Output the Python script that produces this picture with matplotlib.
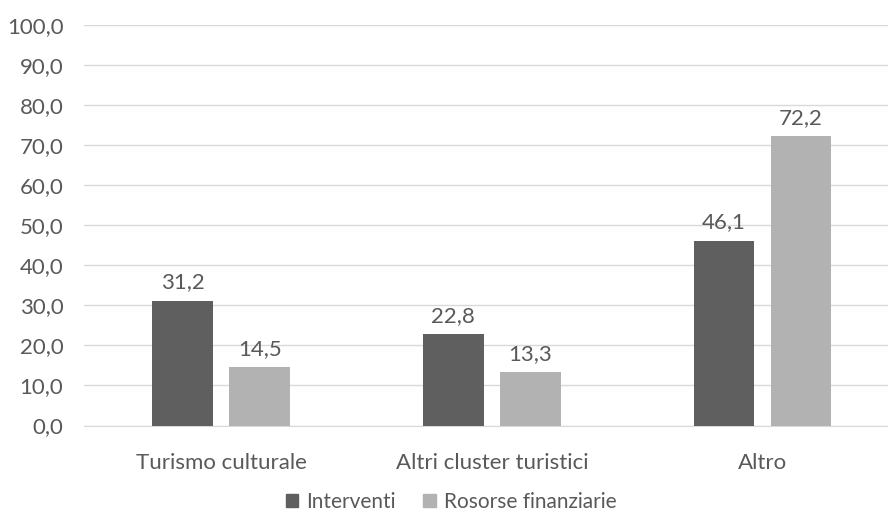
import numpy as np
import matplotlib.pyplot as plt
from matplotlib.ticker import FuncFormatter
from matplotlib.patches import Patch

categories = ["Turismo culturale", "Altri cluster turistici", "Altro"]
interventi = [31.2, 22.8, 46.1]
risorse = [14.5, 13.3, 72.2]
series_names = ["Interventi", "Rosorse finanziarie"]

TEXT = "#595959"
DARK = "#5f5f5f"
LIGHT = "#b2b2b2"
GRID = "#d9d9d9"
FS = 16

plt.rcParams["font.family"] = ["Lato", "DejaVu Sans"]

fig = plt.figure(figsize=(8.88, 5.2), dpi=100)
ax = fig.add_axes([0.0949, 0.1817, 0.9051, 0.7703])

x = np.arange(len(categories))
w = 0.224
off = 0.142
b1 = ax.bar(x - off, interventi, w, color=DARK, zorder=3)
b2 = ax.bar(x + off, risorse, w, color=LIGHT, zorder=3)

def fmt(v):
    return f"{v:.1f}".replace(".", ",")

for bars, vals in ((b1, interventi), (b2, risorse)):
    for rect, v in zip(bars, vals):
        ax.annotate(fmt(v), (rect.get_x() + rect.get_width() / 2, v),
                    xytext=(0, 6), textcoords="offset points",
                    ha="center", va="bottom", fontsize=FS, color=TEXT)

ax.set_ylim(0, 100)
ax.set_xlim(-0.506, 2.464)
ax.set_yticks(np.arange(0, 101, 10))
ax.yaxis.set_major_formatter(FuncFormatter(lambda v, p: fmt(v)))
ax.set_xticks(x)
ax.set_xticklabels(categories)
ax.grid(axis="y", color=GRID, linewidth=1, zorder=0)
for s in ("top", "right", "left"):
    ax.spines[s].set_visible(False)
ax.spines["bottom"].set_color(GRID)
ax.tick_params(axis="both", length=0, labelsize=FS, colors=TEXT)
ax.tick_params(axis="x", pad=20)
ax.tick_params(axis="y", pad=15)

handles = [Patch(color=DARK), Patch(color=LIGHT)]
fig.legend(handles, series_names, loc="center", bbox_to_anchor=(0.508, 0.035),
           ncol=2, frameon=False, fontsize=15, labelcolor=TEXT,
           handlelength=0.6, handleheight=0.6, handletextpad=0.4, columnspacing=1.3)

fig.savefig("out.png", dpi=100)
